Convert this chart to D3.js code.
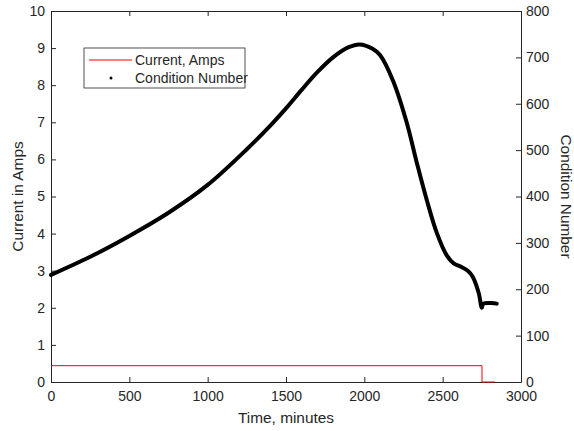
<!DOCTYPE html>
<html>
<head>
<meta charset="utf-8">
<script src="https://cdn.jsdelivr.net/npm/d3@7"></script>
<style>
  body { margin: 0; background: #fff; overflow: hidden; }
  svg { display: block; }
  text { font-family: "Liberation Sans", Arial, sans-serif; fill: #262626; }
</style>
</head>
<body>
<svg id="chart"></svg>
<script>
// Condition number samples
const cnTime = [0, 250, 500, 750, 1000, 1250, 1400, 1500, 1600, 1700, 1800, 1900, 1970, 2050, 2100, 2185, 2270, 2334, 2398, 2462, 2526, 2570, 2620, 2660, 2690, 2730, 2750, 2760, 2845];
const cnValue = [231, 270, 315, 365, 425, 502, 553, 590, 630, 668, 700, 722, 728, 719, 705, 648, 560, 474, 393, 322, 273, 256, 248, 240, 228, 192, 160, 169, 169];

// Current (Amps), step at shutdown
const currentTime = [0, 2751, 2751, 2835];
const currentAmps = [0.44, 0.44, 0, 0];

// Tick values
const xTicks = [0, 500, 1000, 1500, 2000, 2500, 3000];
const leftTicks = [0, 1, 2, 3, 4, 5, 6, 7, 8, 9, 10];
const rightTicks = [0, 100, 200, 300, 400, 500, 600, 700, 800];

let width = 574, height = 431;
let margin = { top: 11, right: 53, bottom: 49, left: 51 };
let innerWidth = width - margin.left - margin.right;
let innerHeight = height - margin.top - margin.bottom;

let svg = d3.select("#chart")
    .attr("width", width)
    .attr("height", height);

let g = svg.append("g")
    .attr("transform", `translate(${margin.left},${margin.top})`);

let xScale = d3.scaleLinear().domain([0, 3000]).range([0, innerWidth]);
let yLeft = d3.scaleLinear().domain([0, 10]).range([innerHeight, 0]);
let yRight = d3.scaleLinear().domain([0, 800]).range([innerHeight, 0]);

let fmt = d3.format("d");

//axes, ticks point inward
let styleAxis = sel => {
    sel.selectAll(".domain, .tick line").attr("stroke", "#262626");
    sel.selectAll("text").style("font-size", "14px").attr("fill", "#262626");
};

g.append("g")
    .attr("transform", `translate(0,${innerHeight})`)
    .call(d3.axisBottom(xScale).tickValues(xTicks).tickFormat(fmt).tickSizeInner(-5).tickSizeOuter(0).tickPadding(9))
    .call(styleAxis);

//top box edge with ticks, no labels
g.append("g")
    .call(d3.axisTop(xScale).tickValues(xTicks).tickSizeInner(-5).tickSizeOuter(0))
    .call(styleAxis)
    .selectAll("text").remove();

g.append("g")
    .call(d3.axisLeft(yLeft).tickValues(leftTicks).tickFormat(fmt).tickSizeInner(-5).tickSizeOuter(0).tickPadding(6))
    .call(styleAxis);

g.append("g")
    .attr("transform", `translate(${innerWidth},0)`)
    .call(d3.axisRight(yRight).tickValues(rightTicks).tickFormat(fmt).tickSizeInner(-5).tickSizeOuter(0).tickPadding(5))
    .call(styleAxis);

//current line
let currentLine = d3.line()
    .x((d, i) => xScale(currentTime[i]))
    .y(d => yLeft(d));

g.append("path")
    .datum(currentAmps)
    .attr("d", currentLine)
    .attr("fill", "none")
    .attr("stroke", "#ff0000")
    .attr("stroke-width", 1);

//condition number, dense dots drawn as a thick trace
let cnLine = d3.line()
    .x((d, i) => xScale(cnTime[i]))
    .y(d => yRight(d))
    .curve(d3.curveCatmullRom.alpha(0.5));

g.append("path")
    .datum(cnValue)
    .attr("d", cnLine)
    .attr("fill", "none")
    .attr("stroke", "#000")
    .attr("stroke-width", 4)
    .attr("stroke-linejoin", "round")
    .attr("stroke-linecap", "round");

//legend
let legend = svg.append("g").attr("transform", "translate(84,48)");
legend.append("rect")
    .attr("width", 161).attr("height", 40)
    .attr("fill", "#fff").attr("stroke", "#262626").attr("stroke-width", 0.8);
legend.append("line")
    .attr("x1", 5).attr("x2", 48).attr("y1", 12).attr("y2", 12)
    .attr("stroke", "#ff0000");
legend.append("text").attr("x", 51).attr("y", 17).style("font-size", "14px").text("Current, Amps");
legend.append("circle").attr("cx", 27).attr("cy", 30).attr("r", 1.5).attr("fill", "#000");
legend.append("text").attr("x", 51).attr("y", 35).style("font-size", "14px").text("Condition Number");

//axis titles
svg.append("text")
    .attr("x", margin.left + innerWidth / 2).attr("y", 423)
    .attr("text-anchor", "middle").style("font-size", "15.4px")
    .text("Time, minutes");

svg.append("text")
    .attr("transform", `translate(23,${margin.top + innerHeight / 2}) rotate(-90)`)
    .attr("text-anchor", "middle").style("font-size", "15.4px")
    .text("Current in Amps");

svg.append("text")
    .attr("transform", `translate(561,${margin.top + innerHeight / 2}) rotate(90)`)
    .attr("text-anchor", "middle").style("font-size", "15.4px")
    .text("Condition Number");
</script>
</body>
</html>
